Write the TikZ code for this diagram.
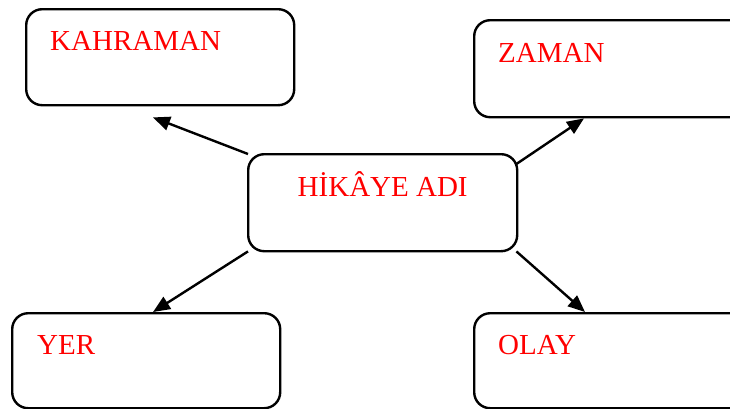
\documentclass[tikz,border=0pt]{standalone}
\usepackage{fontspec}
\setmainfont{Liberation Serif}
\usetikzlibrary{arrows.meta,calc}
\begin{document}
\begin{tikzpicture}[x=1pt,y=-1pt,
  box/.style={draw=black,line width=2.4pt,rounded corners=16pt,inner sep=0pt,anchor=north west},
  lbl/.style={text=red,font=\fontsize{29}{34}\selectfont,inner sep=0pt,anchor=base west},
  conn/.style={line width=2.4pt,-{Triangle[length=17pt,width=14pt]},shorten <=0pt}]
\useasboundingbox (0,0) rectangle (730,408);
\clip (0,0) rectangle (730,408);
\node[box,minimum width=268pt,minimum height=96pt] (kahraman) at (25,8) {};
\node[box,minimum width=290pt,minimum height=97pt] (zaman) at (473,19) {};
\node[box,minimum width=269pt,minimum height=97pt] (hikaye) at (247,153) {};
\node[box,minimum width=268pt,minimum height=95pt] (yer) at (11,312) {};
\node[box,minimum width=290pt,minimum height=95pt] (olay) at (473,312) {};
\node[lbl] (tk) at ($(kahraman.north west)+(25,42)$) {KAHRAMAN};
\node[lbl] (tz) at ($(zaman.north west)+(25,43)$) {ZAMAN};
\node[lbl,anchor=base] (th) at ($(hikaye.north)+(0,43)$) {HİKÂYE ADI};
\node[lbl] (ty) at ($(yer.north west)+(26,42)$) {YER};
\node[lbl] (to) at ($(olay.north west)+(25,42)$) {OLAY};
\coordinate (ek) at ($(kahraman.south west)+(128,11)$);
\coordinate (ez) at ($(zaman.south west)+(111,0)$);
\coordinate (ey) at ($(yer.north west)+(142,0)$);
\coordinate (eo) at ($(olay.north west)+(112,0)$);
\draw[conn] ($(hikaye.north west)+(1,1)$) -- (ek);
\draw[conn] ($(hikaye.north east)+(-2,11)$) -- (ez);
\draw[conn] ($(hikaye.south west)+(1,-1)$) -- (ey);
\draw[conn] ($(hikaye.south east)+(-2,-1)$) -- (eo);
\end{tikzpicture}
\end{document}
